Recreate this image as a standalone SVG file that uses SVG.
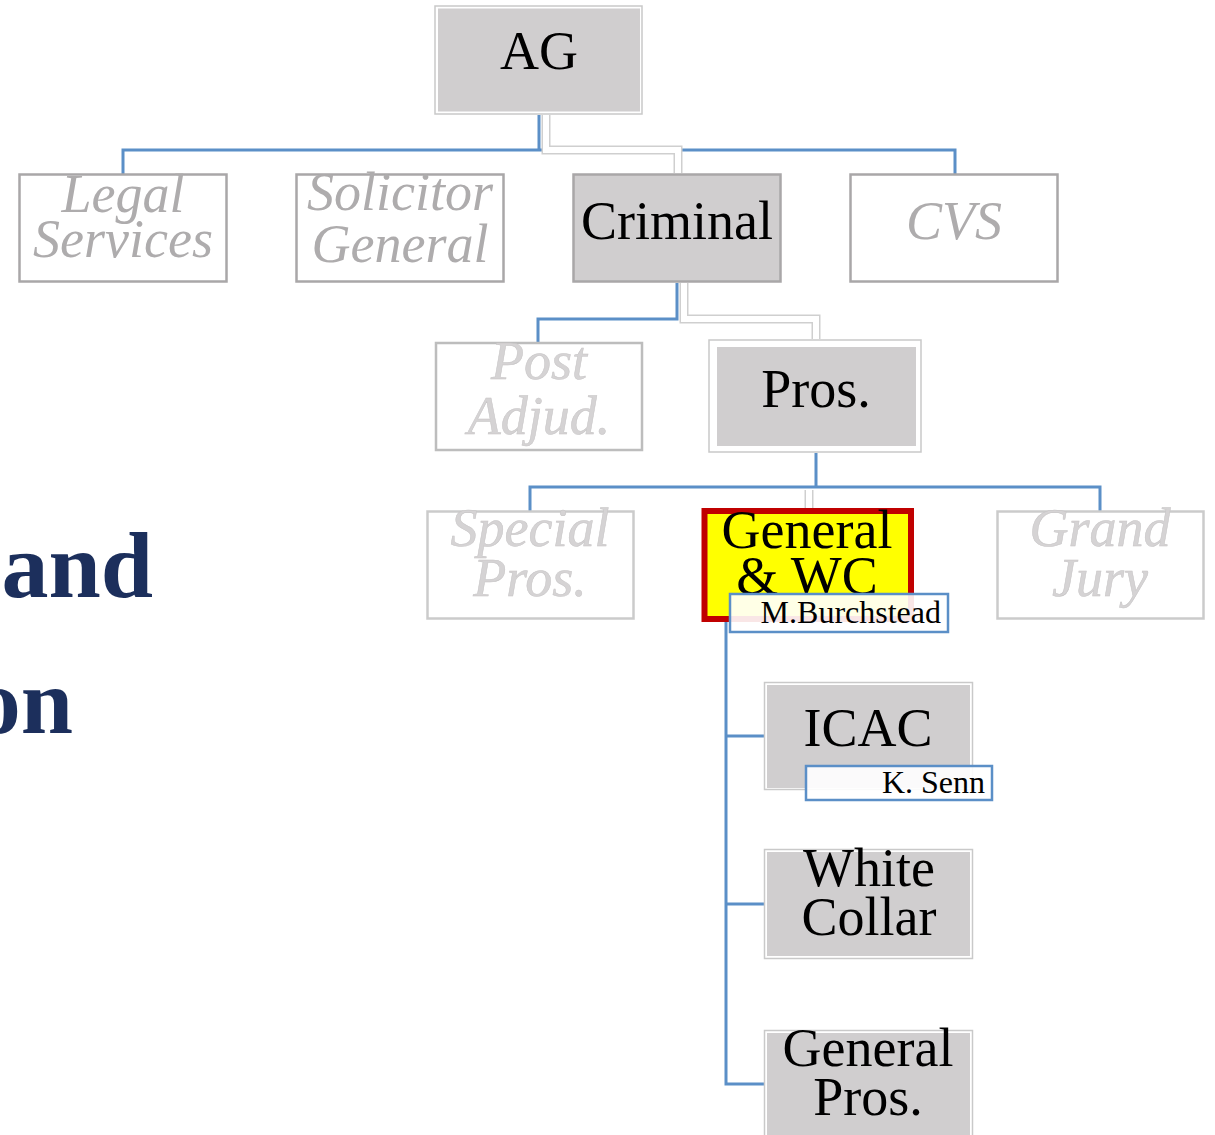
<svg xmlns="http://www.w3.org/2000/svg" width="1215" height="1135" viewBox="0 0 1215 1135">
<style>
.t{font-family:"Liberation Serif","Times New Roman",serif;font-size:54px;text-anchor:middle}
.dark{fill:#000}
.fade{fill:#aeacad;font-style:italic}
.fade2{fill:#d5d3d4;font-style:italic;stroke:#c6c4c5;stroke-width:0.5}
.frame{fill:#fff;stroke:#c9c9c9;stroke-width:1.5}
.fill{fill:#d0cecf}
.box1{fill:#fff;stroke:#a9a7a8;stroke-width:2.5}
.box2{fill:#fff;stroke:#cbcbcb;stroke-width:2.5}
.blue{fill:none;stroke:#5b8fc7;stroke-width:3}
.wedge{fill:none;stroke:#cfcfcf;stroke-width:9}
.wcore{fill:none;stroke:#fff;stroke-width:6}
.tag{fill:#fff;fill-opacity:0.9;stroke:#5b8fc7;stroke-width:2.5}
.tagt{font-family:"Liberation Serif","Times New Roman",serif;font-size:32px;text-anchor:end;fill:#000}
.title{font-family:"Liberation Serif","Times New Roman",serif;font-size:94px;font-weight:bold;fill:#1c2f5c;text-anchor:end}
</style>
<rect width="1215" height="1135" fill="#fff"/>
<text class="title" x="153" y="597">and</text>
<text class="title" x="73" y="733">on</text>
<g id="connectors">
<path class="blue" d="M539 115V150H123V174M539 150H955V174"/>
<path class="wedge" d="M546 115V150H678V173"/>
<path class="wcore" d="M546 115V150H678V173"/>
<path class="blue" d="M677 283V319H538V342"/>
<path class="wedge" d="M684 283V319H816V339"/>
<path class="wcore" d="M684 283V319H816V339"/>
<path class="blue" d="M816 453V487M530 511V487H1100V511"/>
<path class="wedge" d="M809 490V508"/>
<path class="wcore" d="M809 490V508"/>
<path class="blue" d="M726 622V1084H764M726 736H764M726 904H764"/>
</g>
<g id="ag"><rect class="frame" x="435" y="6" width="207" height="108"/><rect class="fill" x="438" y="8.5" width="202" height="103"/><text class="t dark" x="539" y="69">AG</text></g>
<g id="legal"><rect class="box1" x="19.5" y="174.5" width="207" height="107"/><text class="t fade" x="123" y="212">Legal</text><text class="t fade" x="123" y="257">Services</text></g>
<g id="solicitor"><rect class="box1" x="296.5" y="174.5" width="207" height="107"/><text class="t fade" x="400" y="210">Solicitor</text><text class="t fade" x="400" y="262">General</text></g>
<g id="criminal"><rect class="box1" x="573.5" y="174.5" width="207" height="107" style="fill:#d0cecf"/><text class="t dark" x="677" y="239">Criminal</text></g>
<g id="cvs"><rect class="box1" x="850.5" y="174.5" width="207" height="107"/><text class="t fade" x="954" y="239">CVS</text></g>
<g id="post"><rect class="box2" x="436" y="343" width="206" height="107" style="stroke:#bdbdbd"/><text class="t fade2" x="539" y="379">Post</text><text class="t fade2" x="539" y="434">Adjud.</text></g>
<g id="pros"><rect class="frame" x="709" y="340" width="212" height="112"/><rect class="fill" x="717" y="347" width="199" height="99"/><text class="t dark" x="816" y="407">Pros.</text></g>
<g id="special"><rect class="box2" x="427.5" y="511.5" width="206" height="107"/><text class="t fade2" x="530" y="546">Special</text><text class="t fade2" x="530" y="596">Pros.</text></g>
<g id="grand"><rect class="box2" x="997.5" y="511.5" width="206" height="107"/><text class="t fade2" x="1100" y="546">Grand</text><text class="t fade2" x="1100" y="596">Jury</text></g>
<g id="generalwc"><rect x="704.5" y="511" width="206.5" height="108" fill="#ffff00" stroke="#c00000" stroke-width="6"/><text class="t dark" x="807" y="548">General</text><text class="t dark" x="807" y="594">&amp; WC</text><rect class="tag" x="730" y="594" width="218" height="38"/><text class="tagt" x="941" y="623">M.Burchstead</text></g>
<g id="icac"><rect class="frame" x="764.5" y="682.5" width="208" height="107"/><rect class="fill" x="767" y="685" width="203" height="103"/><text class="t dark" x="868" y="746">ICAC</text><rect class="tag" x="806" y="766" width="186" height="34"/><text class="tagt" x="985" y="793">K. Senn</text></g>
<g id="whitecollar"><rect class="frame" x="764.5" y="849.5" width="208" height="109"/><rect class="fill" x="767" y="852" width="203" height="104"/><text class="t dark" x="869" y="886">White</text><text class="t dark" x="869" y="935">Collar</text></g>
<g id="generalpros"><rect class="frame" x="764.5" y="1030.5" width="208" height="110"/><rect class="fill" x="767" y="1033" width="203" height="110"/><text class="t dark" x="868" y="1066">General</text><text class="t dark" x="868" y="1115">Pros.</text></g>
</svg>
